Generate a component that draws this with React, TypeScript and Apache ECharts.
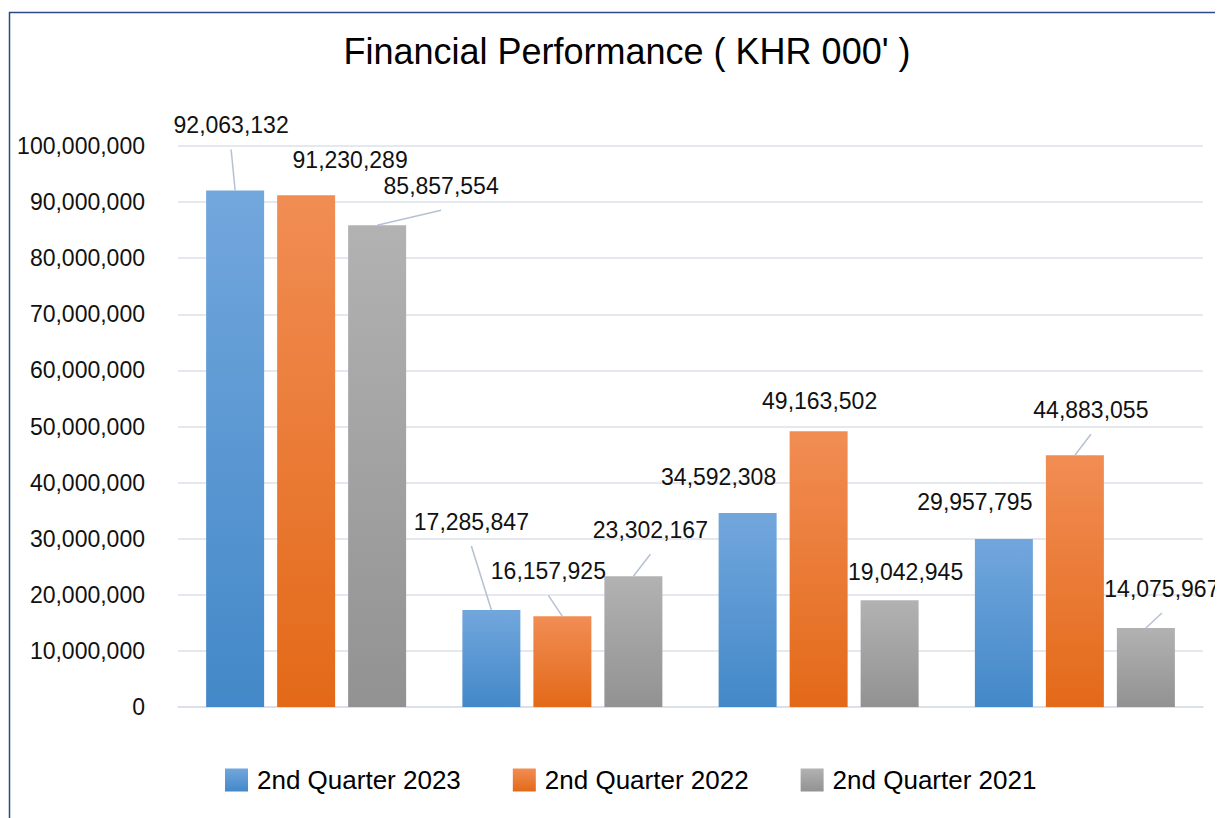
import React, { useEffect, useRef } from "react";
import * as echarts from "echarts";

const categories = ["Group 1", "Group 2", "Group 3", "Group 4"];
const seriesNames = ["2nd Quarter 2023", "2nd Quarter 2022", "2nd Quarter 2021"];
const q2023 = [92063132, 17285847, 34592308, 29957795];
const q2022 = [91230289, 16157925, 49163502, 44883055];
const q2021 = [85857554, 23302167, 19042945, 14075967];
const yTicks = { min: 0, max: 100000000, interval: 10000000 };

// label offsets (style only) relative to default "top" label position
const labelOffsets = [
  [[-4, -49], [-20, -72], [-29, -19], [-29, -20]],
  [[44, -19], [-14, -29], [1, -14], [16, -29]],
  [[64, -23], [17, -30], [16, -12], [16, -23]],
];
const leaderShown = [
  [true, true, false, false],
  [false, true, false, true],
  [true, true, false, true],
];

const gradients = [
  ["#72a7dd", "#4388c8"],
  ["#f18d54", "#e36918"],
  ["#b2b2b2", "#929292"],
];

const BAR_W = 58;
const BAR_GAP = 13;

const fmt = (v: number) => v.toLocaleString("en-US");

export default function App() {
  const ref = useRef<HTMLDivElement>(null);
  useEffect(() => {
    if (!ref.current) return;
    document.body.style.overflow = "hidden";
    const chart = echarts.init(ref.current, null, { renderer: "svg" });
    const font = "'Liberation Sans', Arial, sans-serif";
    const allData = [q2023, q2022, q2021];
    const grad = (i: number) =>
      new echarts.graphic.LinearGradient(0, 0, 0, 1, [
        { offset: 0, color: gradients[i][0] },
        { offset: 1, color: gradients[i][1] },
      ]);
    const leaderData: number[][] = [];
    allData.forEach((d, si) =>
      d.forEach((v, ci) => {
        if (leaderShown[si][ci]) leaderData.push([ci, v, si]);
      })
    );
    chart.setOption({
      animation: false,
      backgroundColor: "#ffffff",
      textStyle: { fontFamily: font },
      title: {
        text: "Financial Performance ( KHR 000' )",
        left: 614,
        textAlign: "center",
        top: 20,
        textStyle: { fontFamily: font, fontSize: 36, fontWeight: "normal", color: "#000000" },
      },
      graphic: [
        {
          type: "rect",
          shape: { x: 1.5, y: 4.5, width: 1400, height: 1000 },
          style: { fill: "none", stroke: "#2b4a86", lineWidth: 1.5 },
          silent: true,
        },
      ],
      legend: {
        data: seriesNames,
        left: 212,
        top: 754,
        itemWidth: 23,
        itemHeight: 23,
        itemGap: 52,
        icon: "rect",
        textStyle: { fontFamily: font, fontSize: 26, color: "#000000", padding: [0, 0, 0, 4] },
      },
      grid: { left: 170, right: 20, top: 138, bottom: 111, containLabel: false },
      xAxis: {
        type: "category",
        data: categories,
        axisLine: { lineStyle: { color: "#d9dee7", width: 1.5 } },
        axisTick: { show: false },
        axisLabel: { show: false },
      },
      yAxis: {
        type: "value",
        min: yTicks.min,
        max: yTicks.max,
        interval: yTicks.interval,
        axisLine: { show: false },
        axisTick: { show: false },
        splitLine: { lineStyle: { color: "#dde2ea", width: 1.5 } },
        axisLabel: {
          formatter: (v: number) => fmt(v),
          fontFamily: font,
          fontSize: 23,
          color: "#111111",
          margin: 33,
          padding: [0, 0, 12, 0],
        },
      },
      series: [
        ...allData.map((d, si) => ({
          name: seriesNames[si],
          type: "bar",
          barWidth: BAR_W,
          barGap: (BAR_GAP / BAR_W) * 100 + "%",
          itemStyle: { color: grad(si) },
          data: d,
          label: {
            show: true,
            position: "top",
            distance: 5,
            formatter: (p: any) => fmt(p.value),
            fontFamily: font,
            fontSize: 23,
            color: "#111111",
          },
          labelLayout: (p: any) => ({
            dx: labelOffsets[si][p.dataIndex][0],
            dy: labelOffsets[si][p.dataIndex][1],
          }),
        })),
        {
          type: "custom",
          name: "leaders",
          silent: true,
          z: 5,
          data: leaderData,
          renderItem: (params: any, api: any) => {
            const ci = api.value(0);
            const v = api.value(1);
            const si = api.value(2);
            const pt = api.coord([ci, v]);
            const bx = pt[0] + (si - 1) * (BAR_W + BAR_GAP);
            const by = pt[1];
            const [dx, dy] = labelOffsets[si][ci];
            return {
              type: "line",
              shape: { x1: bx, y1: by, x2: bx + dx, y2: by + dy + 8 },
              style: { stroke: "#b5c1d3", lineWidth: 1.5 },
            };
          },
        },
      ],
    });
    return () => chart.dispose();
  }, []);
  return <div ref={ref} style={{ width: 1215, height: 810 }} />;
}
